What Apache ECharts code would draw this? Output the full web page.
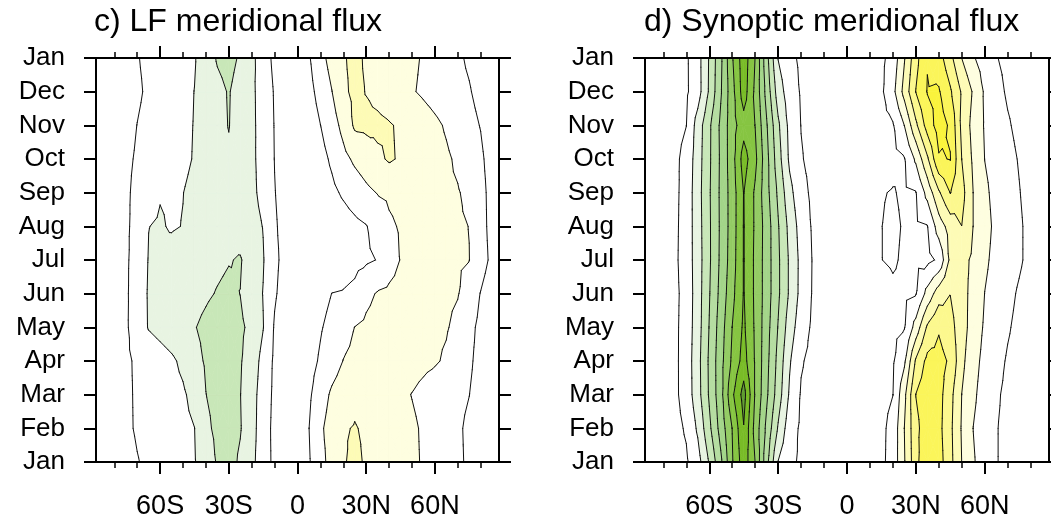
<!DOCTYPE html>
<html><head><meta charset="utf-8">
<script src="https://cdn.jsdelivr.net/npm/echarts@6/dist/echarts.min.js"></script>
<style>html,body{margin:0;padding:0;background:#fff}#chart{width:1051px;height:521px}</style>
</head><body><div id="chart"></div>
<script>
// ---------- data ----------
const months = ['Jan','Feb','Mar','Apr','May','Jun','Jul','Aug','Sep','Oct','Nov','Dec','Jan'];
const lats = [-88,-85,-80,-75,-70,-65,-60,-55,-50,-45,-40,-35,-30,-25,-20,-15,-10,-5,0,5,10,15,20,25,30,35,40,45,50,55,60,65,70,75,80,85,88];
const latTicks = [-60,-30,0,30,60];
const latMinorTicks = [-80,-70,-50,-40,-20,-10,10,20,40,50,70,80];
const levels = [-9,-8,-7,-6,-5,-4,-3,-2,-1,1,2,3,4,5,6];
const bandColors = ['#5f9d2f','#79bc27','#86c542','#94cc64','#a3d589','#b5dda1','#c8e7b8','#e8f4e2',null,null,null,'#fefee0','#fdfbb6','#fcf88e','#fbf55a','#faf33c'];

// LF meridional flux, rows Jan..Dec, columns = lats
const lfFlux = [
 [0,-.16,-.43,-.69,-.96,-1.16,-1.36,-1.55,-1.74,-1.94,-2.47,-3.09,-3.32,-2.87,-2.24,-1.48,-.77,-.22,.34,.91,1.69,2.35,2.92,3.21,2.89,2.70,2.52,2.33,2.14,1.93,1.67,1.41,1.15,.86,.53,.20,0],
 [0,-.19,-.52,-.84,-1.09,-1.27,-1.45,-1.63,-1.81,-1.99,-2.81,-3.2,-3.34,-3.06,-2.35,-1.48,-.74,-.17,.41,.99,1.85,2.38,2.92,3.05,2.88,2.69,2.5,2.31,2.12,1.91,1.65,1.39,1.13,.83,.51,.19,0],
 [0,-.2,-.52,-.85,-1.1,-1.3,-1.49,-1.69,-1.88,-2.28,-2.99,-3.25,-3.29,-3.02,-2.36,-1.56,-.79,-.22,.32,.84,1.56,2.15,2.47,2.8,2.64,2.48,2.32,2.16,1.98,1.8,1.6,1.41,1.21,1.01,.63,.24,0],
 [0,-.2,-.52,-.85,-1.13,-1.37,-1.61,-1.85,-2.19,-2.7,-3.1,-3.35,-3.31,-3.08,-2.52,-1.69,-.83,-.31,.19,.65,1.12,1.58,2.02,2.21,2.41,2.6,2.5,2.39,2.29,2.18,2.08,1.9,1.52,1.14,.71,.27,0],
 [0,-.2,-.53,-.87,-1.45,-2.06,-2.29,-2.51,-2.74,-2.96,-3.19,-3.41,-3.37,-3.15,-2.78,-2.03,-.91,-.4,.08,.5,.92,1.29,1.65,2.01,2.17,2.33,2.5,2.41,2.32,2.23,2.14,2.06,1.8,1.27,.76,.29,0],
 [0,-.2,-.52,-.85,-1.51,-2.08,-2.24,-2.4,-2.56,-2.72,-2.88,-3.05,-3.18,-2.99,-2.49,-1.97,-1.1,-.61,-.18,.25,.67,1.01,1.06,1.21,1.78,2.07,2.18,2.29,2.4,2.31,2.22,2.13,2.04,1.64,.96,.36,0],
 [0,-.19,-.52,-.84,-1.43,-2.04,-2.17,-2.3,-2.43,-2.56,-2.7,-2.83,-2.96,-3.06,-2.63,-2.06,-1.18,-.71,-.36,0,.2,.4,.6,.74,.87,1.03,1.6,2.03,2.13,2.24,2.27,2.18,2.09,2.01,1.46,.75,0],
 [0,-.19,-.52,-.84,-1.31,-1.99,-2.07,-1.93,-2.02,-2.21,-2.4,-2.59,-2.78,-2.65,-2.32,-1.97,-1.1,-.69,-.35,0,.19,.38,.57,.77,.96,1.38,1.87,2.07,2.16,2.25,2.26,2.18,2.09,1.99,1.4,.64,0],
 [0,-.19,-.52,-.84,-1.24,-1.73,-1.96,-1.92,-1.99,-2.19,-2.39,-2.6,-2.8,-2.5,-2.2,-1.75,-1.03,-.63,-.23,.13,.46,.79,1.13,1.46,1.79,2.04,2.14,2.25,2.35,2.27,2.2,2.12,2.05,1.82,1.33,.64,0],
 [0,-.19,-.52,-.84,-1.09,-1.28,-1.47,-1.65,-1.84,-2.05,-2.37,-2.69,-2.88,-2.53,-2.18,-1.67,-.98,-.57,-.16,.26,.68,1.15,1.72,2.17,2.49,2.82,3.1,2.91,2.71,2.52,2.32,2.12,1.87,1.52,1.18,.56,0],
 [0,-.17,-.45,-.73,-1.01,-1.21,-1.41,-1.61,-1.82,-2.03,-2.38,-2.74,-3.03,-2.57,-2.19,-1.64,-.96,-.52,-.09,.44,.99,1.56,2.29,3.15,3.2,3.2,3.07,2.89,2.65,2.41,2.17,1.91,1.6,1.29,.96,.36,0],
 [0,-.15,-.4,-.64,-.89,-1.12,-1.34,-1.56,-1.78,-2.01,-2.38,-2.75,-3.06,-2.58,-2.18,-1.6,-.92,-.46,0,.69,1.35,1.98,2.83,3.2,2.97,2.74,2.52,2.3,2.07,1.87,1.67,1.47,1.27,1.07,.71,.27,0]
];

// Synoptic meridional flux, rows Jan..Dec, columns = lats
const synFlux = [
 [0,-.15,-.39,-.64,-.88,-1.59,-3.09,-4.79,-6.9,-8.6,-6.98,-4.33,-1.97,-1.22,-.85,-.64,-.43,-.21,0,.27,.54,.81,1.36,2.93,4.67,5.95,5.43,4.29,2.99,2.09,1.55,1.04,.8,.58,.35,.13,0],
 [0,-.17,-.46,-.74,-1.1,-2.16,-3.77,-5.39,-7.02,-8.95,-6.63,-4.76,-2.9,-1.4,-.86,-.64,-.43,-.21,0,.26,.53,.79,1.31,3.01,4.73,5.59,5.3,4.22,2.91,1.99,1.52,1.04,.8,.58,.35,.13,0],
 [0,-.19,-.5,-.81,-1.4,-2.61,-4.12,-5.64,-7.8,-9.4,-6.9,-5.17,-3.5,-1.86,-.92,-.69,-.46,-.23,0,.25,.49,.74,.99,2.75,5.02,5.62,5.36,4.32,2.99,2.17,1.6,1.11,.82,.59,.37,.14,0],
 [0,-.19,-.5,-.81,-1.42,-2.66,-4.16,-5.65,-7.19,-8.4,-6.9,-5.3,-3.7,-2.1,-1.08,-.77,-.51,-.26,0,.22,.44,.67,.89,1.83,4.14,5.28,5.33,4.85,3.25,2.33,1.73,1.29,.91,.66,.41,.15,0],
 [0,-.19,-.5,-.81,-1.39,-2.56,-4.04,-5.52,-7.01,-8.17,-6.85,-5.4,-3.95,-2.49,-1.44,-.86,-.57,-.29,0,.19,.38,.57,.76,.95,2.4,4.15,4.9,4.34,3.44,2.54,1.88,1.49,1.09,.77,.48,.18,0],
 [0,-.18,-.49,-.79,-1.34,-2.53,-3.93,-5.32,-6.72,-8.05,-6.81,-5.51,-4.17,-2.85,-1.69,-.94,-.63,-.31,0,.21,.43,.64,.85,.82,.95,2.33,3.55,3.98,3.32,2.71,1.99,1.63,1.25,.89,.55,.21,0],
 [0,-.19,-.51,-.83,-1.44,-2.51,-3.85,-5.2,-6.54,-8.05,-6.81,-5.51,-4.17,-2.85,-1.71,-.96,-.64,-.32,0,.35,.7,.99,1.1,.88,.8,.75,1.15,3.25,3.28,2.84,2.15,1.75,1.44,1.13,.73,.27,0],
 [0,-.19,-.5,-.81,-1.41,-2.55,-3.86,-5.17,-6.48,-8.05,-6.86,-5.53,-4.08,-2.69,-1.57,-.9,-.6,-.3,0,.35,.7,.99,1.15,.93,.88,.97,2.5,3.41,3.99,2.99,2.29,1.8,1.47,1.13,.73,.27,0],
 [0,-.18,-.49,-.79,-1.37,-2.6,-3.89,-5.19,-6.48,-8.03,-6.85,-5.33,-3.82,-2.3,-1.31,-.82,-.55,-.27,0,.3,.6,.95,1.05,.88,.97,2.33,3.86,5.03,4.35,2.99,2.17,1.73,1.38,1.04,.65,.24,0],
 [0,-.18,-.5,-.8,-1.3,-2.53,-3.84,-5.16,-6.6,-8.45,-7.25,-5.31,-3.43,-1.82,-1.06,-.77,-.51,-.26,0,.19,.38,.57,.76,.95,2.17,3.83,5.9,6.04,3.99,2.83,1.99,1.65,1.28,.94,.58,.22,0],
 [0,-.16,-.44,-.71,-.99,-2.44,-3.82,-5.2,-6.59,-7.6,-6.98,-5.09,-3.18,-1.71,-.98,-.74,-.49,-.25,0,.23,.46,.69,.92,2.01,3.79,5.43,6.45,5.85,3.75,2.67,1.92,1.51,1.1,.77,.48,.18,0],
 [0,-.14,-.39,-.63,-.87,-1.56,-3.13,-4.89,-6.65,-8.5,-6.79,-4.65,-2.51,-1.46,-.92,-.69,-.46,-.23,0,.28,.56,.85,1.7,3.34,5.03,6.05,6.1,5.14,3.88,2.89,1.87,1.3,.88,.64,.4,.15,0]
];

// ---------- contouring helpers ----------
const FONT = '"Liberation Sans", Arimo, Arial, Helvetica, sans-serif';
function clipPoly(poly, t, keepAbove) {
  const out = [];
  for (let i = 0; i < poly.length; i++) {
    const a = poly[i], b = poly[(i + 1) % poly.length];
    const ia = keepAbove ? a[2] >= t : a[2] <= t;
    const ib = keepAbove ? b[2] >= t : b[2] <= t;
    if (ia) out.push(a);
    if (ia !== ib) {
      const r = (t - a[2]) / (b[2] - a[2]);
      out.push([a[0] + r * (b[0] - a[0]), a[1] + r * (b[1] - a[1]), t]);
    }
  }
  return out;
}
function cellTriangles(rows, j, m) {
  const p0 = [lats[j], m, rows[m][j]], p1 = [lats[j + 1], m, rows[m][j + 1]];
  const p2 = [lats[j + 1], m + 1, rows[m + 1][j + 1]], p3 = [lats[j], m + 1, rows[m + 1][j]];
  const c = [(lats[j] + lats[j + 1]) / 2, m + 0.5, (p0[2] + p1[2] + p2[2] + p3[2]) / 4];
  return [[p0, p1, c], [p1, p2, c], [p2, p3, c], [p3, p0, c]];
}
function makeContourSeries(flux, xIdx, yIdx) {
  const rows = flux.concat([flux[0]]);
  const cells = [];
  for (let m = 0; m < 12; m++) for (let j = 0; j < lats.length - 1; j++)
    cells.push([(lats[j] + lats[j + 1]) / 2, m + 0.5, j, m]);
  const fill = {
    type: 'custom', xAxisIndex: xIdx, yAxisIndex: yIdx, data: cells, silent: true,
    progressive: 0, animation: false, z: 2, encode: {x: 0, y: 1},
    renderItem: function (params, api) {
      const j = api.value(2), m = api.value(3);
      const children = [];
      cellTriangles(rows, j, m).forEach(function (tri) {
        const vs = tri.map(p => p[2]);
        const mn = Math.min.apply(null, vs), mx = Math.max.apply(null, vs);
        for (let k = 0; k <= levels.length; k++) {
          const col = bandColors[k];
          if (!col) continue;
          const lo = k === 0 ? -Infinity : levels[k - 1];
          const hi = k === levels.length ? Infinity : levels[k];
          if (mx < lo || mn > hi) continue;
          let poly = tri;
          if (isFinite(lo)) poly = clipPoly(poly, lo, true);
          if (poly.length >= 3 && isFinite(hi)) poly = clipPoly(poly, hi, false);
          if (poly.length < 3) continue;
          children.push({type: 'polygon', shape: {points: poly.map(p => api.coord([p[0], p[1]]))},
            style: {fill: col, stroke: col, lineWidth: 0.7}});
        }
      });
      return {type: 'group', children: children};
    }
  };
  const lines = {
    type: 'custom', xAxisIndex: xIdx, yAxisIndex: yIdx, data: cells, silent: true,
    progressive: 0, animation: false, z: 3, encode: {x: 0, y: 1},
    renderItem: function (params, api) {
      const j = api.value(2), m = api.value(3);
      const children = [];
      cellTriangles(rows, j, m).forEach(function (tri) {
        levels.forEach(function (L) {
          const pts = [];
          for (let i = 0; i < 3; i++) {
            const a = tri[i], b = tri[(i + 1) % 3];
            if ((a[2] >= L) !== (b[2] >= L)) {
              const r = (L - a[2]) / (b[2] - a[2]);
              pts.push(api.coord([a[0] + r * (b[0] - a[0]), a[1] + r * (b[1] - a[1])]));
            }
          }
          if (pts.length === 2) children.push({type: 'polyline', shape: {points: pts},
            style: {stroke: '#111', lineWidth: 1, lineCap: 'round', fill: null}});
        });
      });
      return {type: 'group', children: children};
    }
  };
  return [fill, lines];
}

// ---------- axes ----------
function latLabel(v) { return v === 0 ? '0' : (v < 0 ? (-v) + 'S' : v + 'N'); }
const lineSt = {color: '#000', width: 2};
function xAxesFor(g) {
  const base = {type: 'value', gridIndex: g, min: -88, max: 88, splitLine: {show: false}, z: 10};
  return [
    Object.assign({}, base, {position: 'bottom', axisLine: {show: true, onZero: false, lineStyle: lineSt},
      axisTick: {show: true, customValues: latTicks, length: 12, lineStyle: lineSt},
      axisLabel: {show: true, customValues: latTicks, formatter: latLabel, fontSize: 27, fontFamily: FONT, color: '#000', margin: 31}}),
    Object.assign({}, base, {position: 'bottom', axisLine: {show: false, onZero: false},
      axisTick: {show: true, customValues: latMinorTicks, length: 6, lineStyle: {color: '#000', width: 1.5}},
      axisLabel: {show: false}}),
    Object.assign({}, base, {position: 'top', axisLine: {show: true, onZero: false, lineStyle: lineSt},
      axisTick: {show: true, customValues: latTicks, length: 12, lineStyle: lineSt}, axisLabel: {show: false}}),
    Object.assign({}, base, {position: 'top', axisLine: {show: false, onZero: false},
      axisTick: {show: true, customValues: latMinorTicks, length: 6, lineStyle: {color: '#000', width: 1.5}},
      axisLabel: {show: false}})
  ];
}
function yAxesFor(g) {
  const base = {type: 'value', gridIndex: g, min: 0, max: 12, interval: 1, splitLine: {show: false}, z: 10,
    axisLine: {show: true, onZero: false, lineStyle: lineSt}, axisTick: {show: true, length: 12, lineStyle: lineSt}};
  return [
    Object.assign({}, base, {position: 'left',
      axisLabel: {show: true, formatter: v => months[v], fontSize: 26, fontFamily: FONT, color: '#000', margin: 31}}),
    Object.assign({}, base, {position: 'right', axisLabel: {show: false}})
  ];
}

const chart = echarts.init(document.getElementById('chart'), null, {renderer: 'canvas'});
chart.setOption({
  animation: false,
  backgroundColor: '#fff',
  title: [
    {text: 'c) LF meridional flux', left: 94, top: 6, padding: 0, textStyle: {fontSize: 32, fontWeight: 'normal', fontFamily: FONT, color: '#000'}},
    {text: 'd) Synoptic meridional flux', left: 644, top: 6, padding: 0, textStyle: {fontSize: 32, fontWeight: 'normal', fontFamily: FONT, color: '#000'}}
  ],
  grid: [
    {left: 96, top: 58, width: 403, height: 404},
    {left: 645, top: 58, width: 404, height: 404}
  ],
  xAxis: xAxesFor(0).concat(xAxesFor(1)),
  yAxis: yAxesFor(0).concat(yAxesFor(1)),
  series: makeContourSeries(lfFlux, 0, 0).concat(makeContourSeries(synFlux, 4, 2))
});
</script></body></html>
